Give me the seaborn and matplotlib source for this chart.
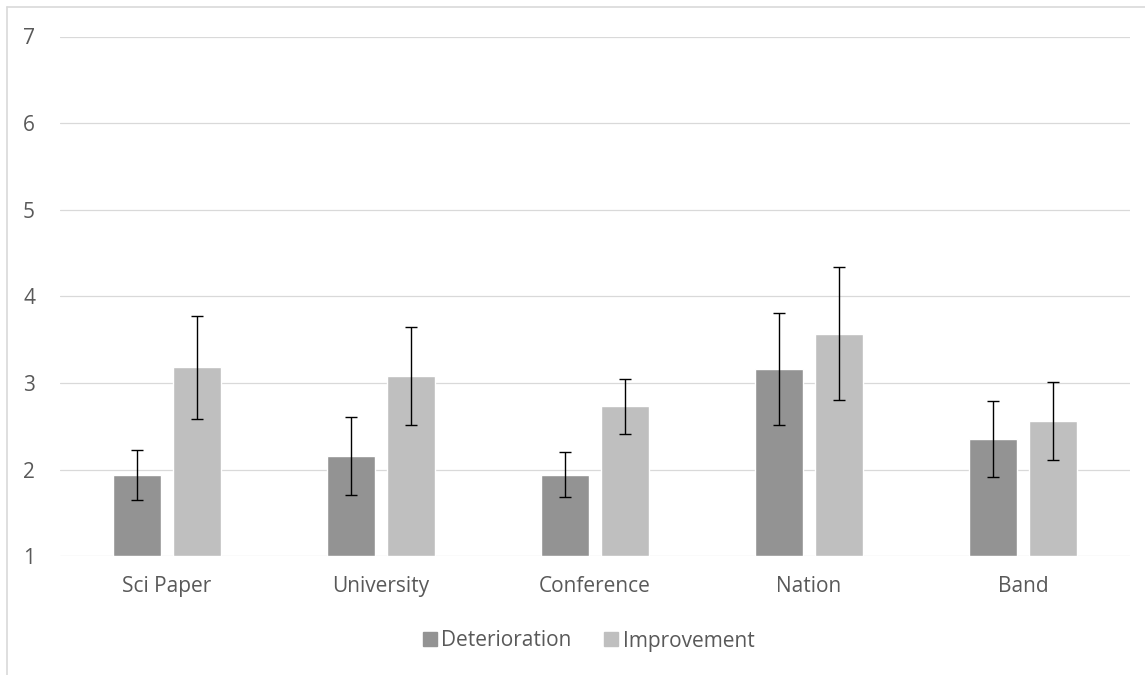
import numpy as np
import pandas as pd
import seaborn as sns
import matplotlib.pyplot as plt
from matplotlib.lines import Line2D

# Data
categories = ["Sci Paper", "University", "Conference", "Nation", "Band"]
series = ["Deterioration", "Improvement"]
deterioration = [1.94, 2.16, 1.94, 3.16, 2.35]
improvement = [3.18, 3.08, 2.73, 3.57, 2.56]
det_err = [0.29, 0.45, 0.26, 0.645, 0.44]
imp_err = [0.59, 0.565, 0.32, 0.77, 0.45]

colors = ["#939393", "#bfbfbf"]

df = pd.DataFrame({
    "category": categories * 2,
    "series": [series[0]] * 5 + [series[1]] * 5,
    "value": deterioration + improvement,
})

sns.set_style("white")
plt.rcParams["font.family"] = ["Open Sans", "DejaVu Sans"]

W, H = 1145, 675
fig = plt.figure(figsize=(W / 100, H / 100), dpi=100)
ax = fig.add_axes([60 / W, 1 - 556.3 / H, (1130 - 60) / W, (556.3 - 36.5) / H])

sns.barplot(data=df, x="category", y="value", hue="series", palette=colors,
            width=0.57, gap=0.213, errorbar=None, ax=ax, legend=False,
            saturation=1)

# error bars centred on the drawn bars
errs = [det_err, imp_err]
for cont, err in zip(ax.containers, errs):
    xs = [p.get_x() + p.get_width() / 2 for p in cont.patches]
    ys = [p.get_height() for p in cont.patches]
    ax.errorbar(xs, ys, yerr=err, fmt="none", ecolor="black",
                elinewidth=1.0, capsize=4.3, capthick=1.0, zorder=5)

# bars start at 1
for p in ax.patches:
    p.set_y(1)
    p.set_height(p.get_height() - 1)

ax.set_ylim(1, 7)
ax.set_xlim(-0.5, 4.5)
ax.set_yticks(range(1, 8))
ax.grid(axis="y", color="#d9d9d9", lw=0.9)
ax.set_axisbelow(True)
for s in ax.spines.values():
    s.set_visible(False)
ax.set_xlabel("")
ax.set_ylabel("")
ax.tick_params(axis="both", length=0, labelsize=15, labelcolor="#595959")
ax.tick_params(axis="y", pad=18)
ax.tick_params(axis="x", pad=14)

handles = [Line2D([], [], marker="s", ls="none", markersize=10,
                  markerfacecolor=c, markeredgecolor=c) for c in colors]
fig.legend(handles, series, loc="center", bbox_to_anchor=(587 / W, 1 - 641 / H),
           ncol=2, frameon=False, fontsize=15, labelcolor="#595959",
           handletextpad=0.05, columnspacing=1.4, handlelength=1.0)

# chart border (left and top visible)
fig.add_artist(Line2D([6.5 / W, 6.5 / W], [0, 1 - 6.5 / H], color="#d9d9d9", lw=1.2))
fig.add_artist(Line2D([6.5 / W, 1], [1 - 6.5 / H, 1 - 6.5 / H], color="#d9d9d9", lw=1.2))

fig.savefig("out.png", dpi=100)
